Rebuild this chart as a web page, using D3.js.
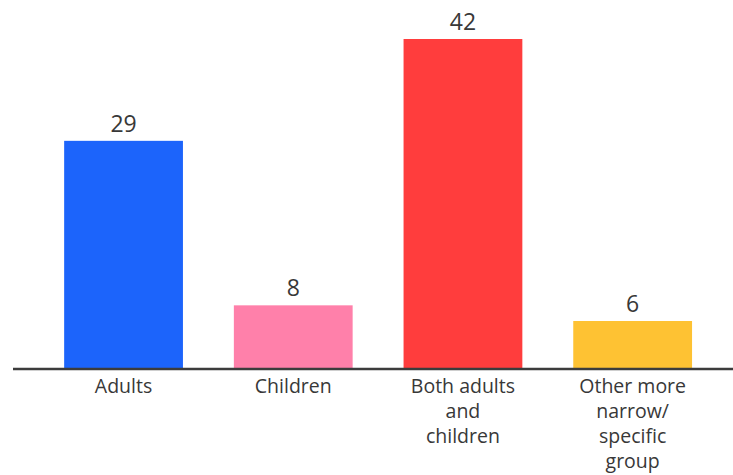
<!DOCTYPE html>
<html>
<head>
<meta charset="utf-8">
<script src="https://cdn.jsdelivr.net/npm/d3@7"></script>
<style>
  html, body { margin: 0; padding: 0; background: #fff; }
  svg { display: block; }
  text { font-family: "Open Sans", "Noto Sans", sans-serif; fill: #383838; }
</style>
</head>
<body>
<div id="chart"></div>
<script>
// Audience groups and their counts
const categories = ["Adults", "Children", "Both adults and children", "Other more narrow/specific group"];
const labelLines = [["Adults"], ["Children"], ["Both adults", "and", "children"], ["Other more", "narrow/", "specific", "group"]];
const values = [29, 8, 42, 6];
const colors = ["#1c64fb", "#ff80aa", "#ff3d3d", "#fec233"];

const width = 733, height = 475;
const baseY = 368;

const svg = d3.select("#chart").append("svg")
  .attr("width", width)
  .attr("height", height);

const x = d3.scaleBand()
  .domain(categories)
  .range([38.7, 717.5])
  .paddingInner(0.3)
  .paddingOuter(0.15);

const y = d3.scaleLinear()
  .domain([0, 42])
  .range([baseY, 39]);

// Bars
svg.selectAll("rect.bar")
  .data(values)
  .join("rect")
  .attr("class", "bar")
  .attr("x", (d, i) => x(categories[i]))
  .attr("y", d => y(d))
  .attr("width", x.bandwidth())
  .attr("height", d => y(0) - y(d))
  .attr("fill", (d, i) => colors[i]);

// Value labels above bars
svg.selectAll("text.value")
  .data(values)
  .join("text")
  .attr("class", "value")
  .attr("x", (d, i) => x(categories[i]) + x.bandwidth() / 2)
  .attr("y", d => y(d) - 9)
  .attr("text-anchor", "middle")
  .style("font-size", "23px")
  .text(d => d);

// Baseline
svg.append("line")
  .attr("x1", 13).attr("x2", width)
  .attr("y1", baseY + 1).attr("y2", baseY + 1)
  .attr("stroke", "#3c3c3c")
  .attr("stroke-width", 2.5);

// Category labels, wrapped onto several lines
const cat = svg.selectAll("text.cat")
  .data(categories)
  .join("text")
  .attr("class", "cat")
  .attr("text-anchor", "middle")
  .style("font-size", "19.5px");

cat.each(function(c, i) {
  const t = d3.select(this);
  labelLines[i].forEach((line, j) => {
    t.append("tspan")
      .attr("x", x(c) + x.bandwidth() / 2)
      .attr("y", 393 + j * 25)
      .text(line);
  });
});
</script>
</body>
</html>
